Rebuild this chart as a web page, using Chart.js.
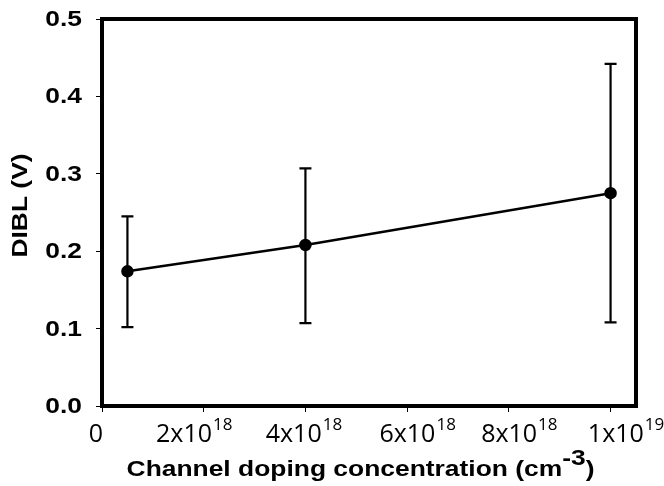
<!DOCTYPE html>
<html>
<head>
<meta charset="utf-8">
<script src="https://cdn.jsdelivr.net/npm/chart.js@4"></script>
<style>
  html, body { margin: 0; padding: 0; background: #fff; }
  #wrap { width: 664px; height: 486px; }
</style>
</head>
<body>
<div id="wrap"><canvas id="dibl_chart" width="664" height="486"></canvas></div>
<script>
// doping concentration (cm^-3) and DIBL (V)
var doping = [5e17, 4e18, 1e19];
var dibl = [0.174, 0.208, 0.275];
var diblLow = [0.102, 0.107, 0.108];
var diblHigh = [0.245, 0.307, 0.442];

var xTicks = [0, 2e18, 4e18, 6e18, 8e18, 1e19];
var xTickBase = ['0', '2x10', '4x10', '6x10', '8x10', '1x10'];
var xTickExp = ['', '18', '18', '18', '18', '19'];
var yTicks = [0, 0.1, 0.2, 0.3, 0.4, 0.5];

// small horizontal nudges of the x labels, as in the original figure
var xLabelNudge = [-6, -10, -2, 10, 10, 15];

var boldFont = '"Liberation Sans", Arial, sans-serif';
var plainFont = '"Open Sans", "Noto Sans", sans-serif';
var stretch = 1.2; // bold text in the figure is a bit wider than Arial

var errorBars = {
    id: 'errorBars',
    afterDatasetsDraw: function (chart) {
        var c = chart.ctx, xs = chart.scales.x, ys = chart.scales.y;
        c.save();
        c.strokeStyle = '#000';
        c.lineWidth = 2.2;
        for (var i = 0; i < doping.length; i++) {
            var px = xs.getPixelForValue(doping[i]);
            var lo = ys.getPixelForValue(diblLow[i]);
            var hi = ys.getPixelForValue(diblHigh[i]);
            c.beginPath();
            c.moveTo(px, lo); c.lineTo(px, hi);
            c.moveTo(px - 6, lo); c.lineTo(px + 6, lo);
            c.moveTo(px - 6, hi); c.lineTo(px + 6, hi);
            c.stroke();
        }
        c.restore();
    }
};

function stretchedText(c, txt, x, y) {
    c.save();
    c.translate(x, y);
    c.scale(stretch, 1);
    c.fillText(txt, 0, 0);
    c.restore();
}

var frameAndText = {
    id: 'frameAndText',
    afterDraw: function (chart) {
        var c = chart.ctx, a = chart.chartArea, xs = chart.scales.x, ys = chart.scales.y;
        c.save();
        // frame
        c.strokeStyle = '#000';
        c.lineWidth = 4;
        c.strokeRect(a.left, a.top, a.right - a.left, a.bottom - a.top);

        c.fillStyle = '#000';

        // y tick labels
        c.font = 'bold 22px ' + boldFont;
        c.textAlign = 'right';
        c.textBaseline = 'middle';
        for (var j = 0; j < yTicks.length; j++) {
            stretchedText(c, yTicks[j].toFixed(1), 82, ys.getPixelForValue(yTicks[j]) + 1);
        }

        // x tick labels with exponents
        c.textBaseline = 'alphabetic';
        c.textAlign = 'left';
        for (var i = 0; i < xTicks.length; i++) {
            c.font = '25px ' + plainFont;
            var wb = c.measureText(xTickBase[i]).width;
            c.font = '17px ' + plainFont;
            var we = c.measureText(xTickExp[i]).width;
            var x0 = xs.getPixelForValue(xTicks[i]) - (wb + we) / 2 + xLabelNudge[i];
            c.font = '25px ' + plainFont;
            c.fillText(xTickBase[i], x0, a.bottom + 36);
            c.font = '17px ' + plainFont;
            c.fillText(xTickExp[i], x0 + wb + 1, a.bottom + 24);
        }

        // x title with superscript
        var t1 = 'Channel doping concentration (cm', t2 = '-3', t3 = ')';
        c.font = 'bold 22px ' + boldFont;
        var w1 = c.measureText(t1).width * stretch, w3 = c.measureText(t3).width * stretch;
        var w2 = c.measureText(t2).width * stretch;
        var tx = (a.left + a.right) / 2 - 8.5 - (w1 + w2 + w3) / 2;
        stretchedText(c, t1, tx, a.bottom + 70);
        stretchedText(c, t2, tx + w1, a.bottom + 59);
        stretchedText(c, t3, tx + w1 + w2, a.bottom + 70);

        // y title
        c.translate(20, 205.5);
        c.rotate(-Math.PI / 2);
        c.textAlign = 'center';
        c.textBaseline = 'middle';
        c.font = 'bold 22px ' + boldFont;
        stretchedText(c, 'DIBL (V)', 0, 1);
        c.restore();
    }
};

var ctx = document.getElementById('dibl_chart');
var diblChart = new Chart(ctx, {
    type: 'scatter',
    data: {
        datasets: [{
            label: 'DIBL',
            data: doping.map(function (d, i) { return { x: d, y: dibl[i] }; }),
            showLine: true,
            borderColor: '#000',
            backgroundColor: '#000',
            borderWidth: 2.5,
            pointRadius: 5,
            pointHoverRadius: 5
        }]
    },
    options: {
        responsive: false,
        animation: false,
        layout: { padding: { top: 19, right: 28, left: 0, bottom: 0 } },
        plugins: {
            legend: { display: false },
            tooltip: { enabled: false }
        },
        scales: {
            x: {
                type: 'linear',
                min: 0,
                max: 1.05e19,
                afterBuildTicks: function (scale) {
                    scale.ticks = xTicks.map(function (v) { return { value: v }; });
                },
                afterFit: function (scale) { scale.height = 80; },
                ticks: { callback: function () { return ''; } },
                grid: { drawOnChartArea: false, drawTicks: true, tickLength: 6, color: '#000', lineWidth: 1 },
                border: { display: false }
            },
            y: {
                min: 0,
                max: 0.5,
                afterBuildTicks: function (scale) {
                    scale.ticks = yTicks.map(function (v) { return { value: v }; });
                },
                afterFit: function (scale) { scale.width = 102; },
                ticks: { callback: function () { return ''; } },
                grid: { drawOnChartArea: false, drawTicks: true, tickLength: 6, color: '#000', lineWidth: 1 },
                border: { display: false }
            }
        }
    },
    plugins: [errorBars, frameAndText]
});
</script>
</body>
</html>
